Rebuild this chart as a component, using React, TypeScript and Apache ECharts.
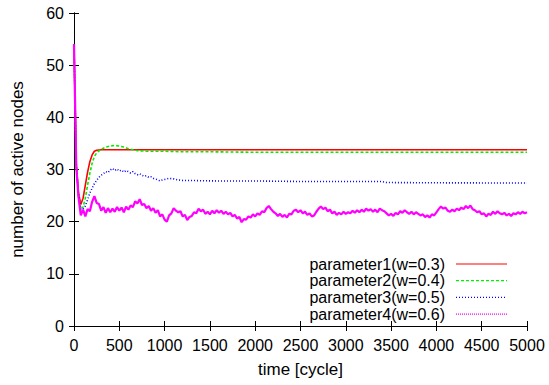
import React, { useEffect, useRef } from "react";
import * as echarts from "echarts";

const seriesNames = [
  "parameter1(w=0.3)",
  "parameter2(w=0.4)",
  "parameter3(w=0.5)",
  "parameter4(w=0.6)",
];

const xTicks = { min: 0, max: 5000, interval: 500 };
const yTicks = { min: 0, max: 60, interval: 10 };

// parameter1 (red)
const redT = [0, 25, 50, 75, 100, 125, 150, 175, 200, 225, 250, 300, 1000, 2000, 3000, 4000, 5000];
const redV = [54, 31, 25.5, 23.3, 24.5, 27, 29.5, 31.5, 32.8, 33.5, 33.7, 33.8, 33.8, 33.8, 33.8, 33.8, 33.8];

// parameter2 (green)
const greenT = [0, 25, 50, 75, 100, 125, 150, 175, 200, 225, 250, 300, 350, 400, 450, 500, 550, 600, 650, 700, 800, 900, 1000, 1200, 1500, 2000, 2500, 3000, 3500, 4000, 4500, 5000];
const greenV = [54, 31, 25, 22.5, 22.8, 24.5, 27, 29.3, 31.2, 32.5, 33.2, 33.9, 34.3, 34.5, 34.6, 34.5, 34.3, 34.0, 33.8, 33.6, 33.5, 33.5, 33.5, 33.4, 33.4, 33.3, 33.3, 33.3, 33.3, 33.3, 33.3, 33.3];

// parameter3 (blue)
const blueT = [0, 25, 50, 75, 100, 125, 150, 175, 200, 225, 250, 275, 300, 325, 350, 375, 400, 425, 450, 475, 500, 525, 550, 575, 600, 625, 650, 675, 700, 725, 750, 775, 800, 825, 850, 875, 900, 925, 950, 975, 1000, 1050, 1100, 1150, 1200, 1300, 1400, 1600, 2000, 2500, 3000, 3400, 3450, 4000, 5000];
const blueV = [54, 31, 25, 22.3, 22.4, 23.0, 24.2, 25.5, 26.4, 27.3, 27.9, 28.5, 28.9, 29.2, 29.6, 29.4, 29.9, 30.2, 29.8, 30.1, 29.7, 29.9, 29.5, 29.8, 29.6, 29.3, 29.6, 29.2, 29.0, 29.2, 28.9, 28.7, 28.8, 28.5, 28.6, 28.3, 28.2, 28.0, 27.8, 28.0, 28.1, 28.3, 28.2, 28.0, 27.9, 27.9, 27.85, 27.8, 27.8, 27.7, 27.7, 27.7, 27.5, 27.45, 27.4];

// parameter4 (magenta), sampled every 25 cycles from 0 to 5000
const magentaV = [
  54, 30.5, 24.6, 21.2, 22.3, 21.0, 22.4, 22.0, 23.8, 24.9, 23.6, 23.4, 22.1, 22.8, 21.7, 22.6, 21.8, 22.5, 21.9, 22.8,
  22.1, 22.7, 21.8, 22.9, 22.3, 23.1, 22.8, 23.9, 23.5, 24.3, 23.2, 23.4, 22.6, 23.0, 22.1, 22.6, 21.7, 22.2, 21.0, 21.4,
  20.4, 20.0, 21.2, 21.6, 22.6, 22.1, 21.8, 22.0, 21.0, 21.3, 20.3, 20.9, 21.1, 21.8, 21.6, 22.5, 22.0, 22.3, 21.5, 21.9,
  21.4, 22.1, 21.6, 22.2, 21.7, 22.1, 21.5, 21.9, 21.4, 21.7, 21.0, 21.3, 20.6, 20.9, 19.9, 20.5, 20.4, 21.0, 20.8, 21.4,
  21.0, 21.6, 21.3, 22.0, 21.8, 22.6, 23.0, 22.4, 21.9, 21.6, 21.1, 21.5, 20.9, 21.3, 20.8, 21.5, 21.4, 22.1, 22.3, 21.8,
  22.2, 21.6, 21.9, 21.3, 21.6, 21.0, 21.2, 21.9, 22.5, 22.9, 22.4, 22.7, 22.0, 22.3, 21.6, 21.9, 21.3, 21.7, 21.4, 21.9,
  21.5, 21.8, 21.6, 22.1, 21.7, 22.2, 21.8, 22.3, 21.9, 22.5, 22.1, 22.4, 21.9, 22.3, 21.8, 22.5, 22.2, 22.0, 21.6, 21.2,
  21.5, 21.1, 21.7, 21.4, 22.0, 21.7, 22.2, 21.8, 21.5, 21.9, 21.4, 21.8, 21.5, 21.2, 21.4, 20.9, 21.2, 20.8, 21.4, 21.2,
  21.8, 22.4, 22.9, 22.5, 22.7, 22.1, 21.9, 22.3, 22.0, 22.5, 22.2, 22.7, 22.4, 23.0, 22.6, 23.1, 22.4, 22.2, 21.8, 22.0,
  21.4, 21.6, 21.0, 21.5, 21.3, 21.9, 21.5, 22.0, 21.6, 21.4, 21.7, 21.2, 21.5, 21.1, 21.6, 21.4, 21.8, 21.5, 21.9, 21.6,
  21.8,
];
const magentaStep = 25;
const magentaT = magentaV.map((_, i) => i * magentaStep);

const zip = (t: number[], v: number[]) => t.map((x, i) => [x, v[i]]);

const FONT = "'Liberation Sans', Arial, Helvetica, sans-serif";

export default function App() {
  const ref = useRef<HTMLDivElement>(null);
  useEffect(() => {
    if (!ref.current) return;
    const chart = echarts.init(ref.current, undefined, { renderer: "svg" });
    const axisCommon = {
      axisLine: { show: true, lineStyle: { color: "#000", width: 1 } },
      axisTick: { show: true, inside: true, length: 5, lineStyle: { color: "#000" } },
      splitLine: { show: false },
    };
    const colors = ["#ff0000", "#00ee00", "#0000ff", "#ff00ff"];
    const dashes: any[] = ["solid", [3, 2], [1, 2], [1, 1]];
    const mkSeries = (name: string, data: number[][], color: string, width: number, dash: any) => ({
      name,
      type: "line",
      data,
      symbol: "none",
      showSymbol: false,
      xAxisIndex: 0,
      yAxisIndex: 0,
      lineStyle: { color, width, type: dash },
      itemStyle: { color },
      emphasis: { disabled: true },
    });

    // gnuplot-style key: text right-aligned, line sample to its right
    const keyTextRight = 445;
    const keyLineX1 = 456;
    const keyLineX2 = 507;
    const keyTop = 264;
    const keyStep = 16.7;
    const keyGraphics: any[] = [];
    seriesNames.forEach((n, i) => {
      const y = keyTop + i * keyStep;
      keyGraphics.push({
        type: "text",
        x: keyTextRight,
        y,
        style: {
          text: n,
          fontSize: 16,
          lineHeight: 16,
          fontFamily: FONT,
          fill: "#000",
          textAlign: "right",
          textVerticalAlign: "middle",
        },
      });
      keyGraphics.push({
        type: "line",
        shape: { x1: keyLineX1, y1: y, x2: keyLineX2, y2: y },
        style: {
          stroke: colors[i],
          lineWidth: 1.2,
          lineDash: dashes[i] === "solid" ? null : dashes[i],
        },
      });
    });

    chart.setOption({
      animation: false,
      backgroundColor: "#fff",
      textStyle: { fontFamily: FONT },
      grid: { left: 74, right: 22, top: 13, bottom: 59, containLabel: false },
      graphic: keyGraphics,
      xAxis: [
        {
          type: "value",
          position: "bottom",
          ...xTicks,
          ...axisCommon,
          axisLabel: { fontSize: 16, color: "#000", margin: 11, fontFamily: FONT, formatter: (v: number) => String(v) },
          name: "time [cycle]",
          nameLocation: "middle",
          nameGap: 35,
          nameTextStyle: { fontSize: 17, color: "#000", fontFamily: FONT },
        },
        {
          type: "value",
          position: "top",
          ...xTicks,
          ...axisCommon,
          axisLabel: { show: false },
        },
      ],
      yAxis: [
        {
          type: "value",
          position: "left",
          ...yTicks,
          ...axisCommon,
          axisLabel: { fontSize: 16, color: "#000", margin: 10, fontFamily: FONT, formatter: (v: number) => String(v) },
          name: "number of active nodes",
          nameLocation: "middle",
          nameRotate: 90,
          nameGap: 48,
          nameTextStyle: { fontSize: 17, color: "#000", fontFamily: FONT },
        },
        {
          type: "value",
          position: "right",
          ...yTicks,
          ...axisCommon,
          axisLabel: { show: false },
        },
      ],
      series: [
        mkSeries(seriesNames[0], zip(redT, redV), colors[0], 1.6, dashes[0]),
        mkSeries(seriesNames[1], zip(greenT, greenV), colors[1], 1.6, dashes[1]),
        mkSeries(seriesNames[2], zip(blueT, blueV), colors[2], 1.6, dashes[2]),
        mkSeries(seriesNames[3], zip(magentaT, magentaV), colors[3], 2.2, "solid"),
      ],
    });
    return () => chart.dispose();
  }, []);
  return (
    <div
      ref={ref}
      style={{ position: "fixed", left: 0, top: 0, width: 549, height: 385, background: "#fff" }}
    />
  );
}
